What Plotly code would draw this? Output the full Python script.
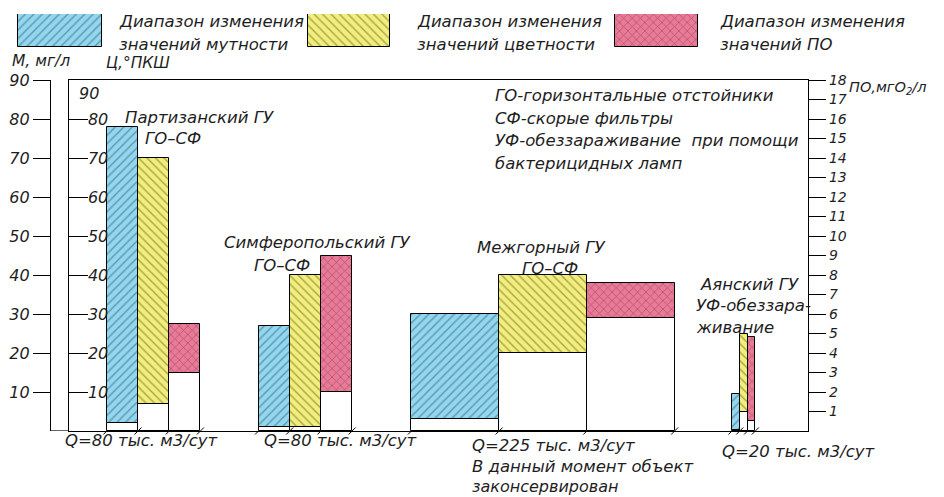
import plotly.graph_objects as go

W, H = 944, 497

# data
plants = ['Партизанский ГУ', 'Симферопольский ГУ', 'Межгорный ГУ', 'Аянский ГУ']
q = [80, 80, 225, 20]                 # тыс. м3/сут -> bar width
turb_low = [2, 1, 3, 0.3]             # М, мг/л
turb_high = [78, 27, 30, 9.5]
colr_low = [7, 1, 20, 5]              # Ц, °ПКШ
colr_high = [70, 40, 40, 25]
po_low = [3, 2, 5.8, 0.5]             # ПО, мгО2/л
po_high = [5.5, 9, 7.6, 4.8]

m_ticks = [10, 20, 30, 40, 50, 60, 70, 80, 90]
c_ticks = [10, 20, 30, 40, 50, 60, 70, 80]
po_ticks = list(range(1, 19))

# where each plant's group of bars starts on the x axis (same units as Q)
group_start = [97, 486, 878, 1700]


def px(x):
    return x / W


def py(y):
    return 1 - y / H


def ital(vals):
    return ['<i>%s</i>' % v for v in vals]


FONT = dict(family='DejaVu Sans', size=16.5, color='#1e1e1e', style='italic')
BLUE = dict(bg='#93d6ef', fg='#24505f', shape='/')
YELLOW = dict(bg='#f2ee7c', fg='#55521a', shape='\\')
PINK = dict(bg='#e97b98', fg='#6e2238', shape='x')


def centers(k):
    return [s + (k + 0.5) * w for s, w in zip(group_start, q)]


def hatch(style):
    return dict(shape=style['shape'], fgcolor=style['fg'], fillmode='overlay',
                size=6, solidity=0.22)


def range_bars(k, low, high, style, yaxis):
    return [
        go.Bar(x=centers(k), y=low, base=[0] * len(low), width=q, yaxis=yaxis,
               marker=dict(color='white', line=dict(color='black', width=1)),
               hoverinfo='skip', showlegend=False),
        go.Bar(x=centers(k), y=[h - l for l, h in zip(low, high)], base=low, width=q,
               yaxis=yaxis, customdata=plants,
               marker=dict(color=style['bg'], line=dict(color='black', width=1),
                           pattern=hatch(style)),
               hovertemplate='%{customdata}<extra></extra>', showlegend=False),
    ]


fig = go.Figure()
for tr in range_bars(1, colr_low, colr_high, YELLOW, 'y'):
    fig.add_trace(tr)
for tr in range_bars(0, turb_low, turb_high, BLUE, 'y2'):
    fig.add_trace(tr)
for tr in range_bars(2, po_low, po_high, PINK, 'y3'):
    fig.add_trace(tr)

# little slashes on the base line at bar edges
edges = [s + i * w for s, w in zip(group_start, q) for i in range(4)]
fig.add_trace(go.Scatter(x=edges, y=[0] * len(edges), mode='markers', cliponaxis=False,
                         marker=dict(symbol='line-ne', size=7, line=dict(color='black', width=1)),
                         hoverinfo='skip', showlegend=False))

# legend swatches on their own little axes
for cx, wd, st in [(60, 84, BLUE), (349, 82, YELLOW), (656, 83, PINK)]:
    fig.add_trace(go.Bar(x=[cx], y=[1], base=[0], width=[wd], xaxis='x2', yaxis='y4',
                         marker=dict(color=st['bg'], line=dict(color='black', width=1),
                                     pattern=hatch(st)),
                         hoverinfo='skip', showlegend=False))

axis_common = dict(showgrid=False, zeroline=False, linecolor='black', linewidth=1.2,
                   tickcolor='black', tickwidth=1.2, tickfont=dict(FONT, size=16),
                   automargin=False, fixedrange=True)

fig.update_layout(
    width=W, height=H,
    margin=dict(l=0, r=0, t=0, b=0),
    paper_bgcolor='white', plot_bgcolor='white',
    barmode='overlay', bargap=0,
    font=FONT,
    xaxis=dict(domain=[px(69), px(808)], range=[0, 1895], showline=True, mirror=True,
               showticklabels=False, ticks='', showgrid=False, zeroline=False,
               linecolor='black', linewidth=1.2, fixedrange=True),
    yaxis=dict(axis_common, domain=[py(431), py(80)], range=[0, 90], showline=True,
               mirror=True, ticks='inside', ticklen=19, ticklabelposition='inside',
               tickvals=c_ticks, ticktext=ital(c_ticks)),
    yaxis2=dict(axis_common, overlaying='y', anchor='free', position=px(50), side='left',
                range=[0, 90], showline=True, ticks='outside', ticklen=17,
                tickvals=m_ticks, ticktext=ital(m_ticks)),
    yaxis3=dict(axis_common, overlaying='y', anchor='x', side='right', range=[0, 18],
                showline=True, ticks='outside', ticklen=17,
                tickvals=po_ticks, ticktext=ital(po_ticks), tickfont=dict(FONT, size=14)),
    xaxis2=dict(domain=[0, 1], range=[0, W], anchor='y4', visible=False, fixedrange=True),
    yaxis4=dict(domain=[py(47), py(14)], range=[0, 1], anchor='x2', visible=False,
                fixedrange=True),
)

fig.add_shape(type='line', xref='paper', yref='y', x0=px(50), x1=px(69), y0=0, y1=0,
              line=dict(color='black', width=1.2))

labels = [
    # (text, x px left, y px centre, font size)
    ('Диапазон изменения', 117, 22, 16.5), ('значений мутности', 117, 44, 16.5),
    ('Диапазон изменения', 415, 22, 16.5), ('значений цветности', 415, 44, 16.5),
    ('Диапазон изменения', 718, 22, 16.5), ('значений ПО', 718, 44, 16.5),
    ('М, мг/л', 10, 61, 15.5), ('Ц,°ПКШ', 104, 63, 15.5),
    ('90', 77, 93, 16),
    ('ПО,мгО<sub>2</sub>/л', 847, 88, 14.5),
    ('Партизанский ГУ', 123, 117, 16.5), ('ГО–СФ', 143, 138, 16.5),
    ('Симферопольский ГУ', 222, 242, 16.5), ('ГО–СФ', 252, 265, 16.5),
    ('Межгорный ГУ', 475, 247, 16.5), ('ГО–СФ', 520, 268, 16.5),
    ('Аянский ГУ', 698, 284, 16.5), ('УФ-обеззара-', 694, 305, 16.5),
    ('живание', 694, 327, 16.5),
    ('ГО-горизонтальные отстойники', 493, 95, 16.5),
    ('СФ-скорые фильтры', 493, 118, 16.5),
    ('УФ-обеззараживание  при помощи', 493, 140, 16.5),
    ('бактерицидных ламп', 493, 163, 16.5),
    ('Q=80 тыс. м3/сут', 63, 440, 16.5), ('Q=80 тыс. м3/сут', 262, 440, 16.5),
    ('Q=225 тыс. м3/сут', 470, 445, 16.5), ('В данный момент объект', 470, 466, 16.5),
    ('законсервирован', 470, 486, 16),
    ('Q=20 тыс. м3/сут', 720, 451, 16.5),
]
for text, x, y, size in labels:
    fig.add_annotation(text=text, xref='paper', yref='paper', x=px(x), y=py(y),
                       xanchor='left', yanchor='middle', showarrow=False,
                       font=dict(FONT, size=size))

fig.write_html('out.html', config={'displayModeBar': False},
               post_script="document.body.style.margin='0';")
